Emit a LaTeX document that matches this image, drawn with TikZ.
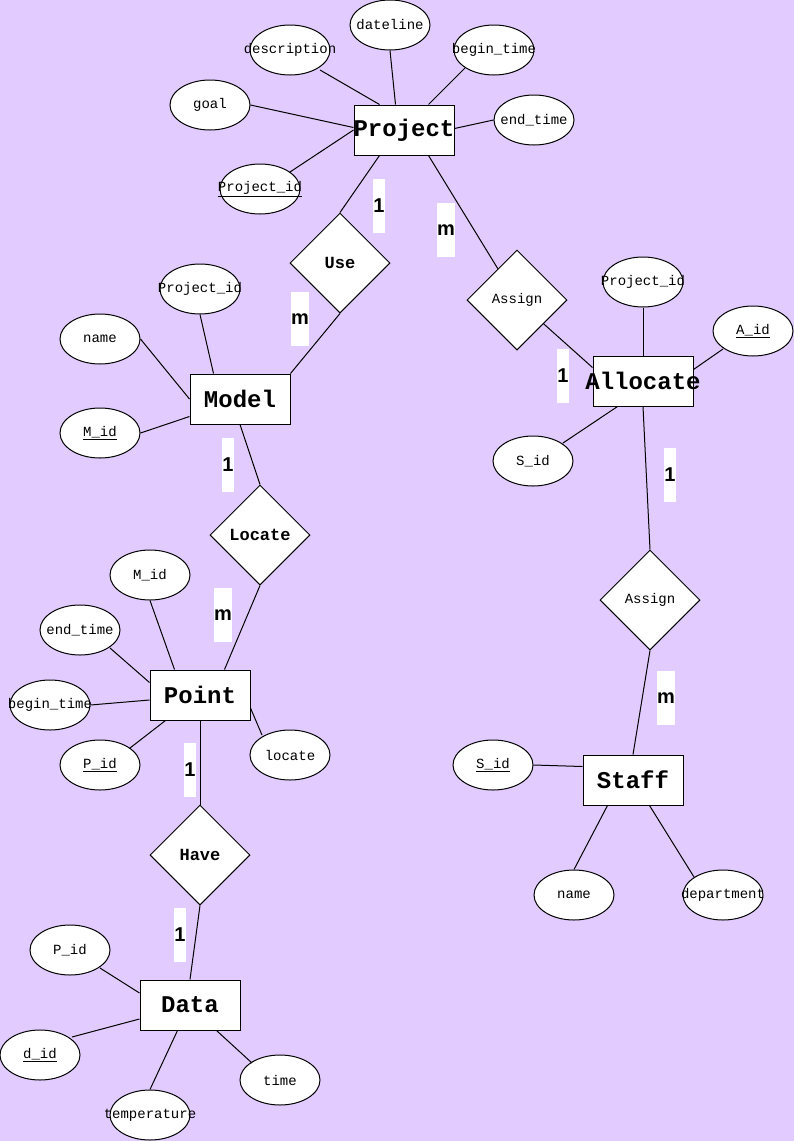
\documentclass[tikz,border=0pt]{standalone}
\usepackage{fontspec}
\setmainfont{Liberation Serif}
\setmonofont{Liberation Mono}
\setsansfont{Liberation Sans}
\usetikzlibrary{shapes.geometric,calc}
\definecolor{bgc}{HTML}{E2CCFF}
\begin{document}
\begin{tikzpicture}[x=1pt,y=-1pt,line width=1pt,
 entity/.style={draw, fill=white, rectangle, minimum width=100pt, minimum height=50pt, inner sep=0pt},
 attr/.style={draw, fill=white, ellipse, minimum width=80pt, minimum height=50pt, inner sep=0pt},
 rel/.style={draw, fill=white, diamond, minimum width=100pt, minimum height=100pt, inner sep=0pt},
 etxt/.style={font=\ttfamily\bfseries\fontsize{24}{28}\selectfont, inner sep=0pt},
 atxt/.style={font=\ttfamily\fontsize{14}{16}\selectfont, inner sep=0pt},
 rtxt/.style={font=\ttfamily\bfseries\fontsize{17}{20}\selectfont, inner sep=0pt},
 card/.style={fill=white, font=\sffamily\bfseries\fontsize{20}{24}\selectfont, minimum height=54pt, inner xsep=0.5pt, inner ysep=0pt},
 con/.style={draw, line width=1pt}]
\fill[bgc] (0,0) rectangle (794,1141);
\useasboundingbox (0,0) rectangle (794,1141);

% entities
\node[entity, label={[etxt]center:Project}] (proj) at (404,130) {};
\node[entity, label={[etxt]center:Model}] (model) at (240,399) {};
\node[entity, label={[etxt]center:Allocate}] (alloc) at (643,381) {};
\node[entity, label={[etxt]center:Point}] (point) at (200,695) {};
\node[entity, label={[etxt]center:Staff}] (staff) at (633,780) {};
\node[entity, label={[etxt]center:Data}] (data) at (190,1005) {};

% relationships
\node[rel, label={[rtxt]center:Use}] (use) at (340,263) {};
\node[rel, label={[atxt]center:Assign}] (asgA) at (517,300) {};
\node[rel, label={[rtxt]center:Locate}] (loc) at (260,535) {};
\node[rel, label={[atxt]center:Assign}] (asgB) at (650,600) {};
\node[rel, label={[rtxt]center:Have}] (have) at (200,855) {};

% attributes of Project
\node[attr, label={[atxt]center:dateline}] (pdl) at (390,25) {};
\node[attr, label={[atxt]center:description}] (pdesc) at (290,50) {};
\node[attr, label={[atxt]center:begin\_time}] (pbt) at (494,50) {};
\node[attr, label={[atxt]center:goal}] (pgoal) at (210,105) {};
\node[attr, label={[atxt]center:end\_time}] (pet) at (534,120) {};
\node[attr, label={[atxt]center:\underline{Project\_id}}] (ppid) at (260,189) {};

% attributes of Model
\node[attr, label={[atxt]center:Project\_id}] (mpid) at (200,289) {};
\node[attr, label={[atxt]center:name}] (mname) at (100,339) {};
\node[attr, label={[atxt]center:\underline{M\_id}}] (mmid) at (100,433) {};

% attributes of Allocate
\node[attr, label={[atxt]center:Project\_id}] (apid) at (643,282) {};
\node[attr, label={[atxt]center:\underline{A\_id}}] (aaid) at (753,331) {};
\node[attr, label={[atxt]center:S\_id}] (asid) at (533,461) {};

% attributes of Point
\node[attr, label={[atxt]center:M\_id}] (tmid) at (150,575) {};
\node[attr, label={[atxt]center:end\_time}] (tet) at (80,630) {};
\node[attr, label={[atxt]center:begin\_time}] (tbt) at (50,705) {};
\node[attr, label={[atxt]center:\underline{P\_id}}] (tpid) at (100,765) {};
\node[attr, label={[atxt]center:locate}] (tloc) at (290,755) {};

% attributes of Staff
\node[attr, label={[atxt]center:\underline{S\_id}}] (ssid) at (493,765) {};
\node[attr, label={[atxt]center:name}] (sname) at (574,895) {};
\node[attr, label={[atxt]center:department}] (sdep) at (723,895) {};

% attributes of Data
\node[attr, label={[atxt]center:P\_id}] (dpid) at (70,950) {};
\node[attr, label={[atxt]center:\underline{d\_id}}] (ddid) at (40,1055) {};
\node[attr, label={[atxt]center:time}] (dtime) at (280,1080) {};
\node[attr, label={[atxt]center:temperature}] (dtemp) at (150,1115) {};

% connectors: Project
\draw[con] ($(pdesc)+(30,20)$) -- ($(proj.north west)+(26,0)$);
\draw[con] (pdl.south) -- ($(proj.north west)+(42,0)$);
\draw[con] ($(pbt)+(-29,18)$) -- ($(proj.north west)+(75,0)$);
\draw[con] (pgoal.east) -- ($(proj.north west)+(0,23)$);
\draw[con] (pet.west) -- ($(proj.north east)+(0,24)$);
\draw[con] ($(ppid)+(30,-17)$) -- (proj.west);
\draw[con] ($(proj.south west)+(26,0)$) -- (use.north);
\draw[con] ($(proj.south west)+(75,0)$) -- (asgA);
% Model
\draw[con] (use.south) -- (model.north east);
\draw[con] (mpid.south) -- ($(model.north west)+(24,0)$);
\draw[con] (mname.east) -- (model.west);
\draw[con] (mmid.east) -- ($(model.south west)+(0,-8)$);
\draw[con] (model.south) -- (loc.north);
% Point
\draw[con] (loc.south) -- ($(point.north west)+(75,0)$);
\draw[con] (tmid.south) -- ($(point.north west)+(25,0)$);
\draw[con] ($(tet)+(30,18)$) -- ($(point.north west)+(0,13)$);
\draw[con] (tbt.east) -- ($(point.west)+(0,5)$);
\draw[con] ($(tpid)+(30,-17)$) -- ($(point.south west)+(16,0)$);
\draw[con] ($(tloc)+(-28,-20)$) -- ($(point.east)+(0,13)$);
\draw[con] (point.south) -- (have.north);
% Data
\draw[con] (have.south) -- (data.north);
\draw[con] ($(dpid)+(30,18)$) -- ($(data.west)+(0,-12)$);
\draw[con] ($(ddid)+(32,-18)$) -- ($(data.west)+(0,14)$);
\draw[con] (dtemp.north) -- ($(data.south west)+(38,0)$);
\draw[con] ($(dtime)+(-28,-17)$) -- ($(data.south west)+(77,0)$);
% Allocate
\draw[con] (asgA) -- ($(alloc.north west)+(0,12)$);
\draw[con] (apid.south) -- (alloc.north);
\draw[con] ($(aaid)+(-30,18)$) -- ($(alloc.north east)+(0,14)$);
\draw[con] ($(asid)+(30,-18)$) -- ($(alloc.south west)+(25,0)$);
\draw[con] (alloc.south) -- (asgB.north);
% Staff
\draw[con] (asgB.south) -- (staff.north);
\draw[con] (ssid.east) -- ($(staff.north west)+(0,12)$);
\draw[con] (sname.north) -- ($(staff.south west)+(25,0)$);
\draw[con] ($(sdep)+(-29,-18)$) -- ($(staff.south west)+(67,0)$);

% cardinalities
\node[card] (c1) at (379,206) {1};
\node[card] (c2) at (446,230) {m};
\node[card] (c3) at (300,319) {m};
\node[card] (c4) at (563,376) {1};
\node[card] (c5) at (228,465) {1};
\node[card] (c6) at (223,615) {m};
\node[card] (c7) at (190,770) {1};
\node[card] (c8) at (180,935) {1};
\node[card] (c9) at (670,475) {1};
\node[card] (c10) at (666,698) {m};
\end{tikzpicture}
\end{document}
